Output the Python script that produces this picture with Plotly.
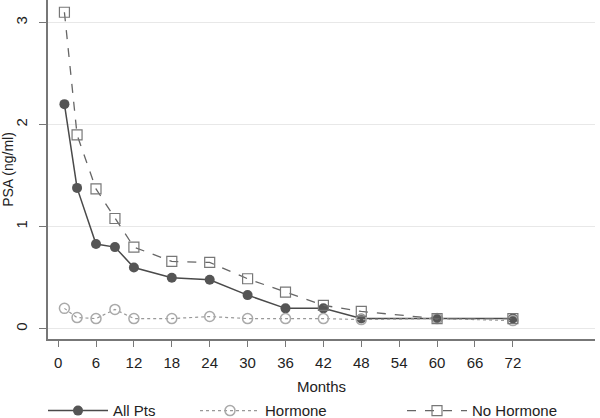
import plotly.graph_objects as go

months = [1, 3, 6, 9, 12, 18, 24, 30, 36, 42, 48, 60, 72]
all_pts = [2.2, 1.38, 0.83, 0.80, 0.60, 0.50, 0.48, 0.33, 0.20, 0.20, 0.10, 0.10, 0.10]
hormone = [0.20, 0.11, 0.10, 0.19, 0.10, 0.10, 0.12, 0.10, 0.10, 0.10, 0.09, 0.10, 0.08]
no_hormone = [3.1, 1.9, 1.37, 1.08, 0.80, 0.66, 0.65, 0.49, 0.36, 0.23, 0.17, 0.10, 0.10]
x_ticks = list(range(0, 73, 6))
y_ticks = [0, 1, 2, 3]

fig = go.Figure()
fig.add_trace(go.Scatter(
    x=months, y=all_pts, name="All Pts", mode="lines+markers", legend="legend",
    line=dict(color="#4a4a4a", width=1.5),
    marker=dict(symbol="circle", size=10, color="#555555"),
))
fig.add_trace(go.Scatter(
    x=months, y=hormone, name="Hormone", mode="lines+markers", legend="legend2",
    line=dict(color="#999999", width=1.2, dash="dot"),
    marker=dict(symbol="circle-open", size=10, color="#aaaaaa", line=dict(width=1.5)),
))
fig.add_trace(go.Scatter(
    x=months, y=no_hormone, name="No Hormone", mode="lines+markers", legend="legend3",
    line=dict(color="#666666", width=1.3, dash="dash"),
    marker=dict(symbol="square-open", size=10, color="#777777", line=dict(width=1.2)),
))

leg_common = dict(orientation="h", xanchor="left", yanchor="middle", y=-0.212,
                  itemwidth=60, font=dict(size=15), bgcolor="rgba(0,0,0,0)")
# plot area spans 48..595 px (width 547)
fig.update_layout(
    width=600, height=418,
    margin=dict(l=48, r=5, t=0, b=79, autoexpand=False),
    paper_bgcolor="white", plot_bgcolor="white",
    font=dict(family="Liberation Sans, Arial, sans-serif", size=14, color="#222222"),
    showlegend=True,
    legend=dict(x=(48 - 48 - 5) / 547, **leg_common),
    legend2=dict(x=(200 - 48 - 5) / 547, **leg_common),
    legend3=dict(x=(407 - 48 - 5) / 547, **leg_common),
    xaxis=dict(
        range=[-1.6, 85], tickvals=x_ticks, showgrid=False, zeroline=False,
        showline=True, linecolor="#777777", linewidth=1.5,
        ticks="outside", ticklen=6, tickcolor="#777777", automargin=False,
        tickfont=dict(size=15), ticklabelstandoff=3,
        title=dict(text="Months", standoff=12, font=dict(size=15)),
    ),
    yaxis=dict(
        range=[-0.1, 3.22], tickvals=y_ticks, showgrid=True, gridcolor="#e8e8e8",
        zeroline=False, showline=True, linecolor="#777777", linewidth=1.5,
        ticks="outside", ticklen=7, tickcolor="#777777", tickangle=-90,
        automargin=False, tickfont=dict(size=15), ticklabelstandoff=6,
        title=dict(text="PSA (ng/ml)", standoff=4, font=dict(size=14)),
    ),
)

fig.write_html("out.html",
               config={"displayModeBar": False},
               post_script="document.body.style.margin='0';document.body.style.padding='0';")
